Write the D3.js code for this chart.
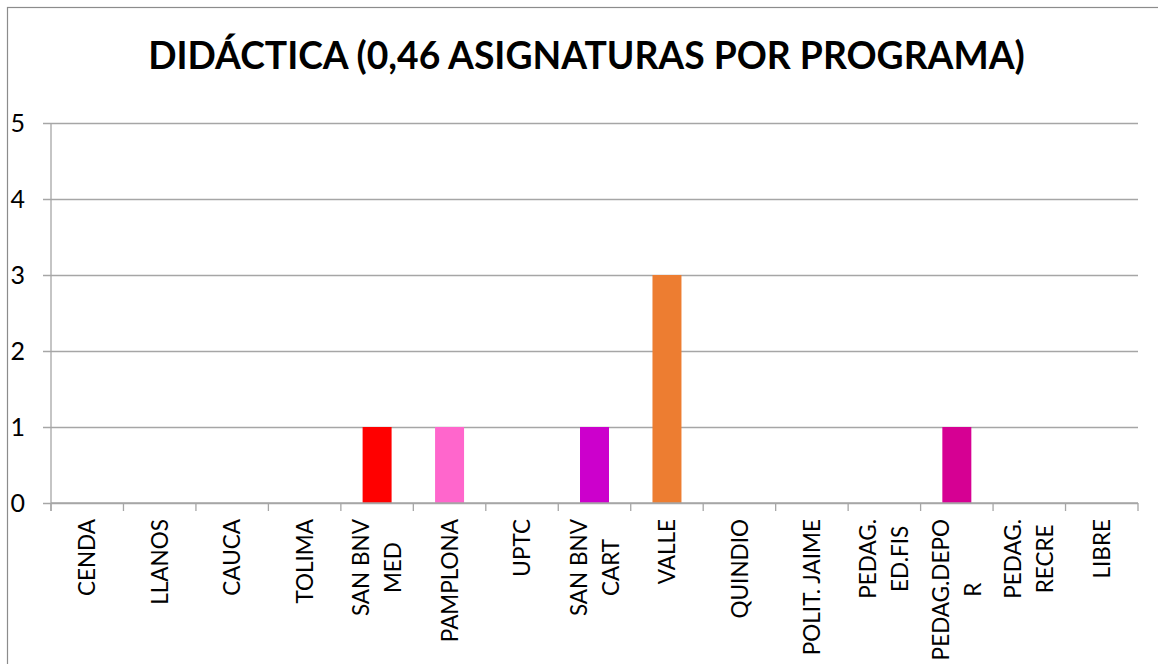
<!DOCTYPE html>
<html><head><meta charset="utf-8">
<script src="https://cdn.jsdelivr.net/npm/d3@7"></script>
<style>
html,body{margin:0;padding:0;background:#fff;}
svg{display:block;font-family:Lato, "Open Sans", sans-serif;}
</style></head>
<body><svg id="c" width="1158" height="664"></svg>
<script>
const categories = ["CENDA","LLANOS","CAUCA","TOLIMA","SAN BNV MED","PAMPLONA","UPTC","SAN BNV CART","VALLE","QUINDIO","POLIT. JAIME","PEDAG. ED.FIS","PEDAG.DEPOR","PEDAG. RECRE","LIBRE"];
const tickLabels = [["CENDA"],["LLANOS"],["CAUCA"],["TOLIMA"],["SAN BNV","MED"],["PAMPLONA"],["UPTC"],["SAN BNV","CART"],["VALLE"],["QUINDIO"],["POLIT. JAIME"],["PEDAG.","ED.FIS"],["PEDAG.DEPO","R"],["PEDAG.","RECRE"],["LIBRE"]];
const values = [0,0,0,0,1,1,0,1,3,0,0,0,1,0,0];
const barColors = ["#4472C4","#4472C4","#4472C4","#4472C4","#FF0000","#FF66CC","#4472C4","#CC00CC","#ED7D31","#4472C4","#4472C4","#4472C4","#D60093","#4472C4","#4472C4"];
const yTicks = [0,1,2,3,4,5];
const title = "DIDÁCTICA (0,46 ASIGNATURAS POR PROGRAMA)";

const svg = d3.select("#c");
const L = 51, R = 1138, T = 123, B = 503;

svg.append("rect").attr("x",7.5).attr("y",7.5).attr("width",1200).attr("height",700)
  .attr("fill","none").attr("stroke","#8c8c8c").attr("stroke-width",1.2);

const xCat = d3.scaleBand().domain(categories).range([L,R]).padding(0);
const xBar = d3.scaleBand().domain(categories).range([L,R]).paddingInner(0.6).paddingOuter(0.3);
const y = d3.scaleLinear().domain([0,5]).range([B,T]);

// gridlines + y axis
const ya = svg.append("g").attr("transform",`translate(${L},0)`)
  .call(d3.axisLeft(y).tickValues(yTicks).tickFormat(d3.format("d")).tickSizeInner(-(R-L)).tickSizeOuter(0).tickPadding(26));
ya.select(".domain").remove();
ya.selectAll(".tick line").attr("x1",-8).attr("stroke","#a6a6a6").attr("stroke-width",1.3);
ya.selectAll(".tick text").attr("font-size",25).attr("fill","#000").attr("font-family","Lato");
// vertical axis line
svg.append("line").attr("x1",L).attr("x2",L).attr("y1",T).attr("y2",B+8)
  .attr("stroke","#a6a6a6").attr("stroke-width",1.3);

// bars
svg.append("g").selectAll("rect").data(categories).join("rect")
  .attr("x",d=>xBar(d)).attr("width",xBar.bandwidth())
  .attr("y",(d,i)=>y(values[i])).attr("height",(d,i)=>y(0)-y(values[i]))
  .attr("fill",(d,i)=>barColors[i]);

// x axis line and boundary ticks
svg.append("line").attr("x1",L).attr("x2",R).attr("y1",B).attr("y2",B)
  .attr("stroke","#a6a6a6").attr("stroke-width",1.3);
const bounds = categories.map(c=>xCat(c)).concat([R]);
svg.append("g").selectAll("line").data(bounds).join("line")
  .attr("x1",d=>d).attr("x2",d=>d).attr("y1",B).attr("y2",B+8)
  .attr("stroke","#a6a6a6").attr("stroke-width",1.3);

// x labels rotated
const lineGap = 32, labTop = 519;
const lg = svg.append("g");
categories.forEach((c,i)=>{
  const cx = xCat(c) + xCat.bandwidth()/2;
  const lines = tickLabels[i];
  const g = lg.append("g");
  const texts = lines.map((t,j)=> g.append("text").text(t).attr("font-size",22.5).attr("fill","#000")
     .attr("text-anchor","middle").attr("dy","0.36em"));
  const maxLen = d3.max(texts, t=>t.node().getComputedTextLength());
  const cy = labTop + maxLen/2;
  texts.forEach((t,j)=>{
    const off = (j - (lines.length-1)/2)*lineGap;
    t.attr("transform",`translate(${cx+off},${cy}) rotate(-90)`);
  });
});

// title
const tt = svg.append("text").attr("x",586.5).attr("y",69).attr("text-anchor","middle")
  .attr("font-weight","bold").attr("font-size",40).attr("fill","#000").text(title);
const w = tt.node().getComputedTextLength();
tt.attr("font-size",40*877/w);
</script></body></html>
